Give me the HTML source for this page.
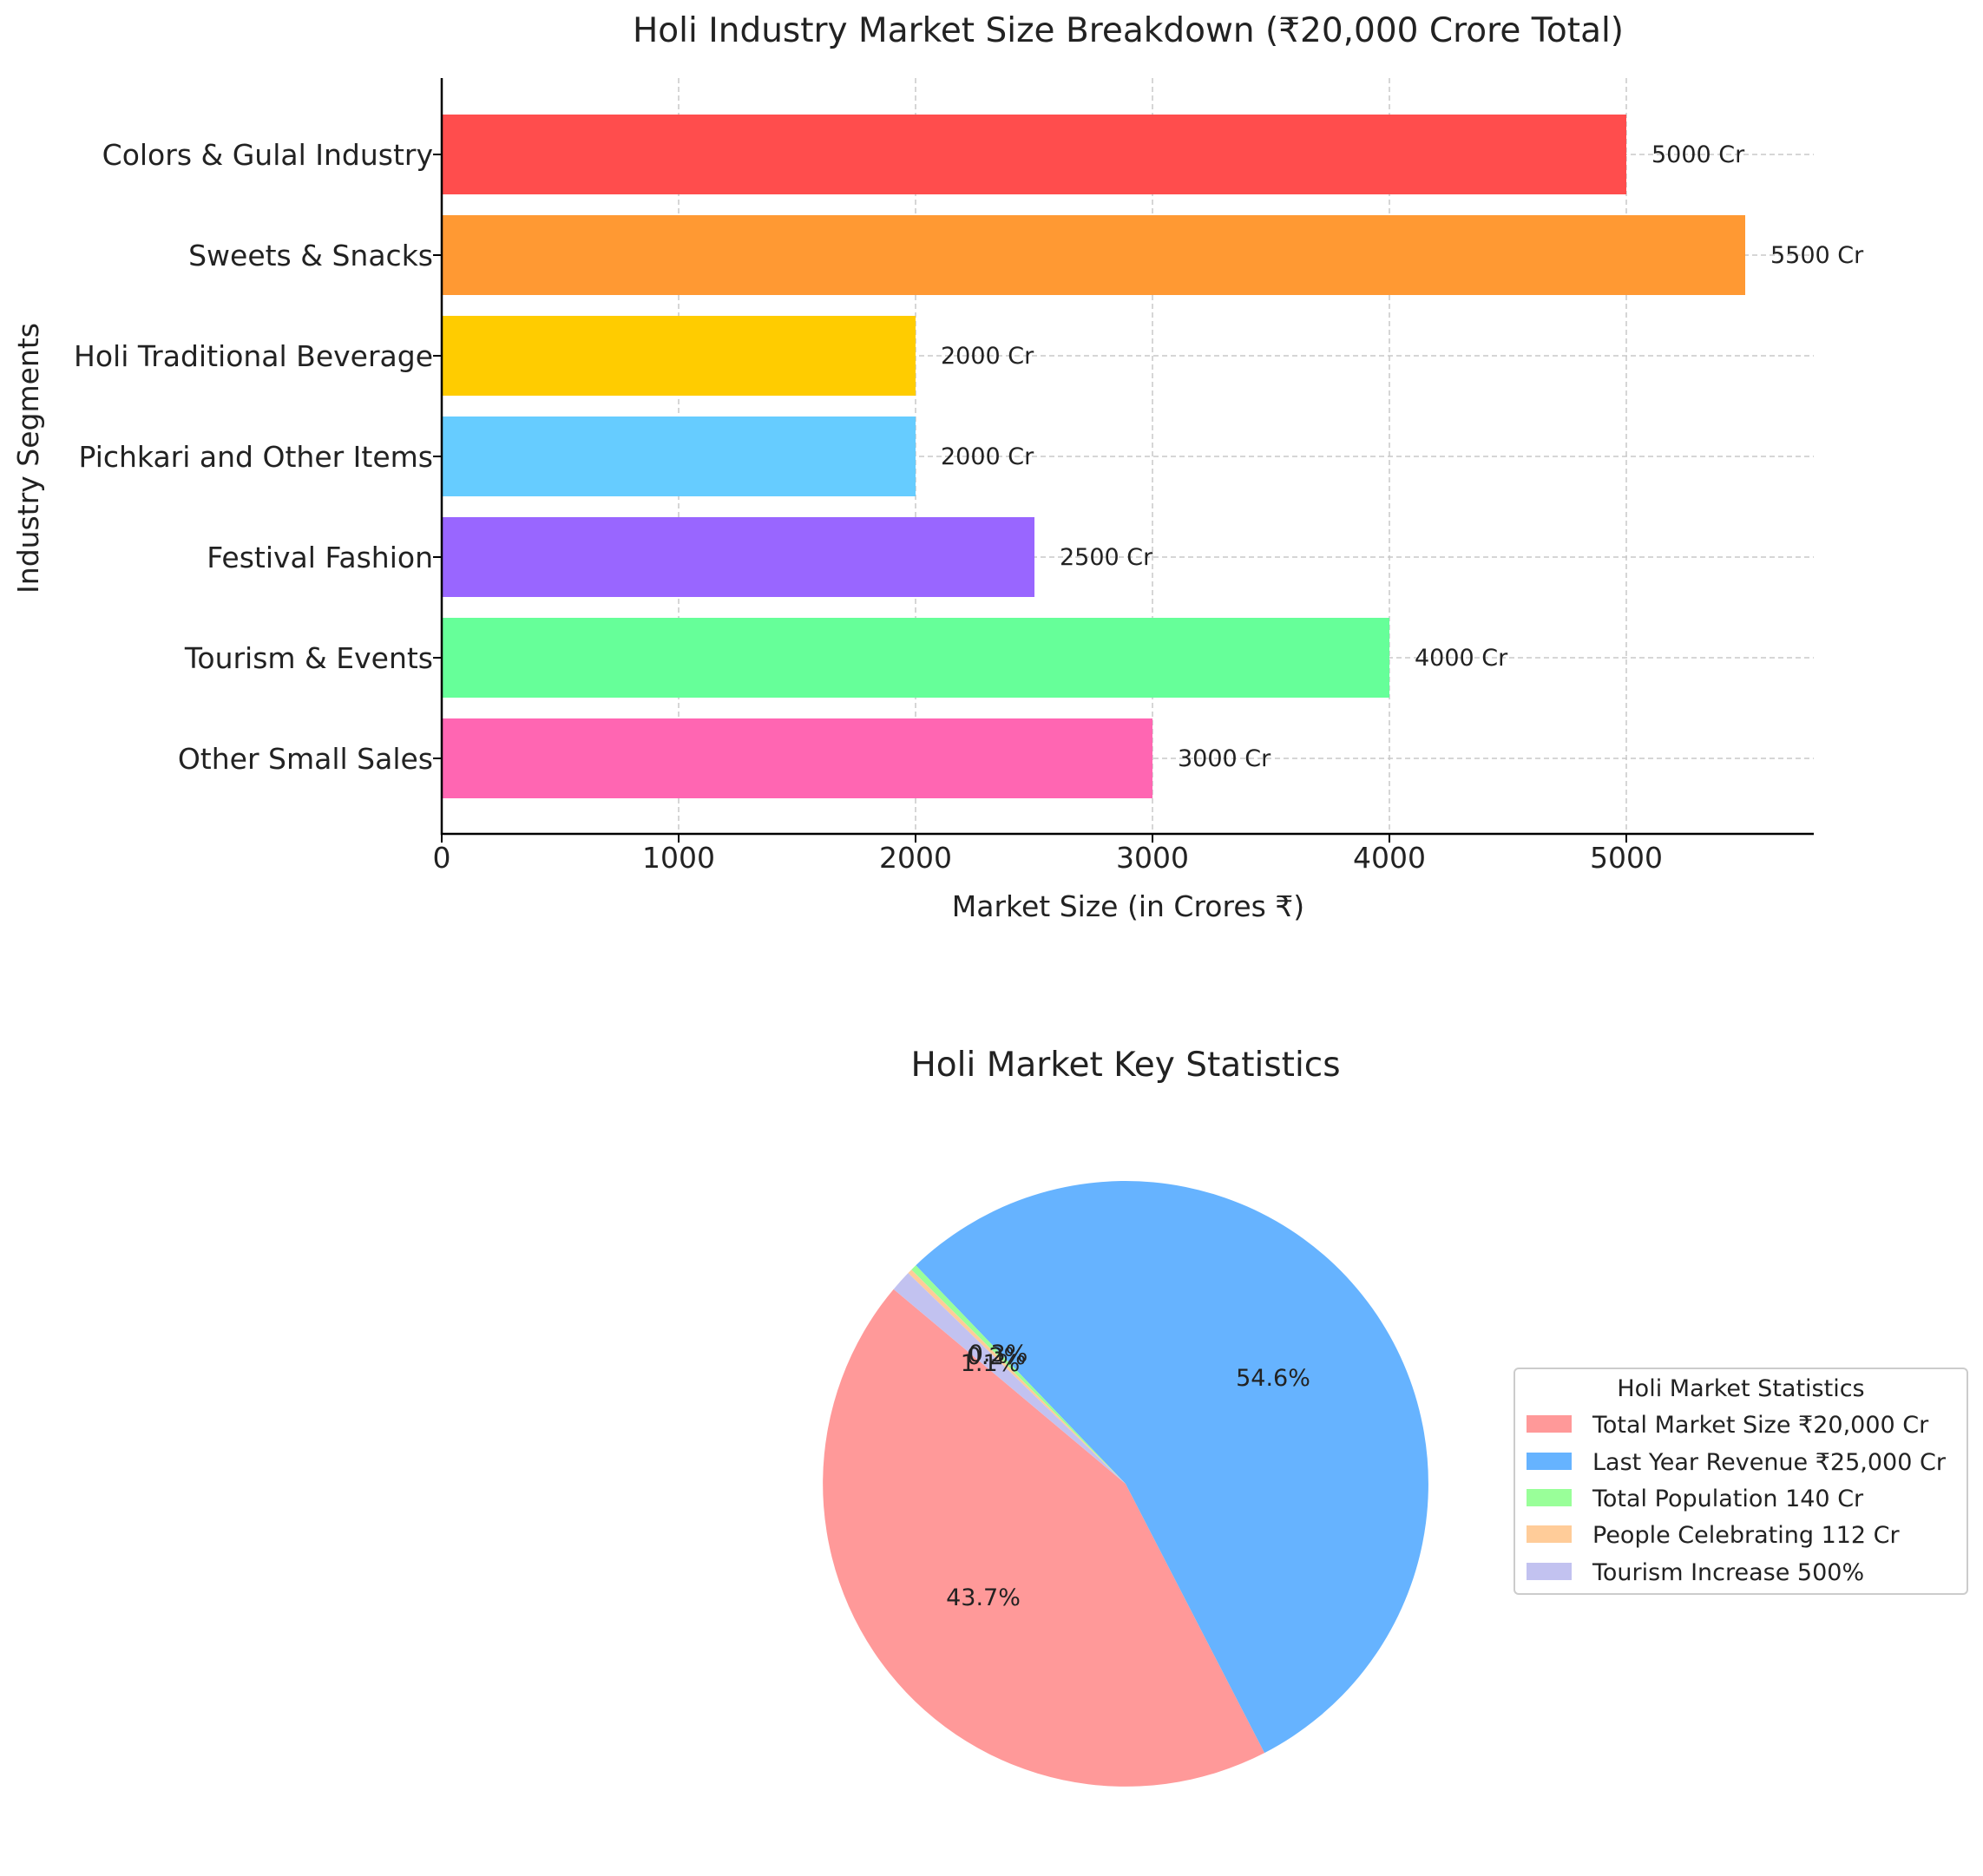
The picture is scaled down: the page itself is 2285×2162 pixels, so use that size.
<!DOCTYPE html>
<html><head><meta charset="utf-8"><style>body{margin:0;background:#fff}svg{display:block}text{font-family:"DejaVu Sans","Liberation Sans",sans-serif;fill:#222}</style></head>
<body>
<svg width="2285" height="2162" viewBox="0 0 2285 2162" xmlns="http://www.w3.org/2000/svg">
<rect width="2285" height="2162" fill="#fff"/>
<text x="1300" y="48" font-size="39" text-anchor="middle" fill="#333">Holi Industry Market Size Breakdown (₹20,000 Crore Total)</text>
<g stroke="#c8c8c8" stroke-width="1.5" stroke-dasharray="6,4">
<line x1="782" y1="90" x2="782" y2="961"/><line x1="1055" y1="90" x2="1055" y2="961"/><line x1="1328" y1="90" x2="1328" y2="961"/><line x1="1601" y1="90" x2="1601" y2="961"/><line x1="1874" y1="90" x2="1874" y2="961"/>
<line x1="509" y1="178" x2="2090" y2="178"/><line x1="509" y1="294" x2="2090" y2="294"/><line x1="509" y1="410" x2="2090" y2="410"/><line x1="509" y1="526" x2="2090" y2="526"/><line x1="509" y1="642" x2="2090" y2="642"/><line x1="509" y1="758" x2="2090" y2="758"/><line x1="509" y1="874" x2="2090" y2="874"/>
</g>
<rect x="509" y="132" width="1365" height="92" fill="#ff4d4d"/>
<rect x="509" y="248" width="1502" height="92" fill="#ff9933"/>
<rect x="509" y="364" width="546" height="92" fill="#ffcc00"/>
<rect x="509" y="480" width="546" height="92" fill="#66ccff"/>
<rect x="509" y="596" width="683" height="92" fill="#9966ff"/>
<rect x="509" y="712" width="1092" height="92" fill="#66ff99"/>
<rect x="509" y="828" width="819" height="92" fill="#ff66b2"/>
<g font-size="27">
<text x="1903" y="187">5000 Cr</text><text x="2040" y="303">5500 Cr</text><text x="1084" y="419">2000 Cr</text><text x="1084" y="535">2000 Cr</text><text x="1221" y="651">2500 Cr</text><text x="1630" y="767">4000 Cr</text><text x="1357" y="883">3000 Cr</text>
</g>
<path d="M509 90 V961 H2090" fill="none" stroke="#000" stroke-width="2.5"/>
<g stroke="#000" stroke-width="2">
<line x1="509" y1="961" x2="509" y2="971"/><line x1="782" y1="961" x2="782" y2="971"/><line x1="1055" y1="961" x2="1055" y2="971"/><line x1="1328" y1="961" x2="1328" y2="971"/><line x1="1601" y1="961" x2="1601" y2="971"/><line x1="1874" y1="961" x2="1874" y2="971"/>
<line x1="499" y1="178" x2="509" y2="178"/><line x1="499" y1="294" x2="509" y2="294"/><line x1="499" y1="410" x2="509" y2="410"/><line x1="499" y1="526" x2="509" y2="526"/><line x1="499" y1="642" x2="509" y2="642"/><line x1="499" y1="758" x2="509" y2="758"/><line x1="499" y1="874" x2="509" y2="874"/>
</g>
<g font-size="33" text-anchor="middle">
<text x="509" y="1000">0</text><text x="782" y="1000">1000</text><text x="1055" y="1000">2000</text><text x="1328" y="1000">3000</text><text x="1601" y="1000">4000</text><text x="1874" y="1000">5000</text>
</g>
<g font-size="33" text-anchor="end">
<text x="499" y="190">Colors &amp; Gulal Industry</text><text x="499" y="306">Sweets &amp; Snacks</text><text x="499" y="422">Holi Traditional Beverage</text><text x="499" y="538">Pichkari and Other Items</text><text x="499" y="654">Festival Fashion</text><text x="499" y="770">Tourism &amp; Events</text><text x="499" y="886">Other Small Sales</text>
</g>
<text x="1300" y="1056" font-size="33" text-anchor="middle">Market Size (in Crores ₹)</text>
<text transform="translate(44,528) rotate(-90)" font-size="33" text-anchor="middle">Industry Segments</text>

<text x="1297" y="1240" font-size="39" text-anchor="middle" fill="#333">Holi Market Key Statistics</text>
<g transform="translate(-7,-6)">
<path d="M1304 1716 L1036.7 1491.7 A349 349 0 0 0 1464.1 2026.1 Z" fill="#ff9999"/>
<path d="M1304 1716 L1464.1 2026.1 A349 349 0 1 0 1062.3 1464.2 Z" fill="#66b3ff"/>
<path d="M1304 1716 L1062.3 1464.2 A349 349 0 0 0 1057.2 1469.2 Z" fill="#99ff99"/>
<path d="M1304 1716 L1057.2 1469.2 A349 349 0 0 0 1053.4 1473.1 Z" fill="#ffcc99"/>
<path d="M1304 1716 L1053.4 1473.1 A349 349 0 0 0 1036.7 1491.7 Z" fill="#c2c2f0"/>
<g font-size="27" text-anchor="middle" fill="#333">
<text x="1140" y="1856">43.7%</text><text x="1474" y="1603">54.6%</text><text x="1157" y="1575">0.3%</text><text x="1155" y="1578">0.2%</text><text x="1148" y="1586">1.1%</text>
</g>
</g>
<g transform="translate(-10,-10)">
<rect x="1755" y="1587" width="522" height="260" rx="5" fill="#fff" stroke="#ccc" stroke-width="2"/>
<text x="2016" y="1619" font-size="27" text-anchor="middle">Holi Market Statistics</text>
<rect x="1769" y="1641" width="52" height="20" fill="#ff9999"/><rect x="1769" y="1684" width="52" height="20" fill="#66b3ff"/><rect x="1769" y="1726" width="52" height="20" fill="#99ff99"/><rect x="1769" y="1768" width="52" height="20" fill="#ffcc99"/><rect x="1769" y="1811" width="52" height="20" fill="#c2c2f0"/>
<g font-size="27">
<text x="1845" y="1661">Total Market Size ₹20,000 Cr</text><text x="1845" y="1704">Last Year Revenue ₹25,000 Cr</text><text x="1845" y="1746">Total Population 140 Cr</text><text x="1845" y="1788">People Celebrating 112 Cr</text><text x="1845" y="1831">Tourism Increase 500%</text>
</g>
</g>
</svg>
</body></html>
